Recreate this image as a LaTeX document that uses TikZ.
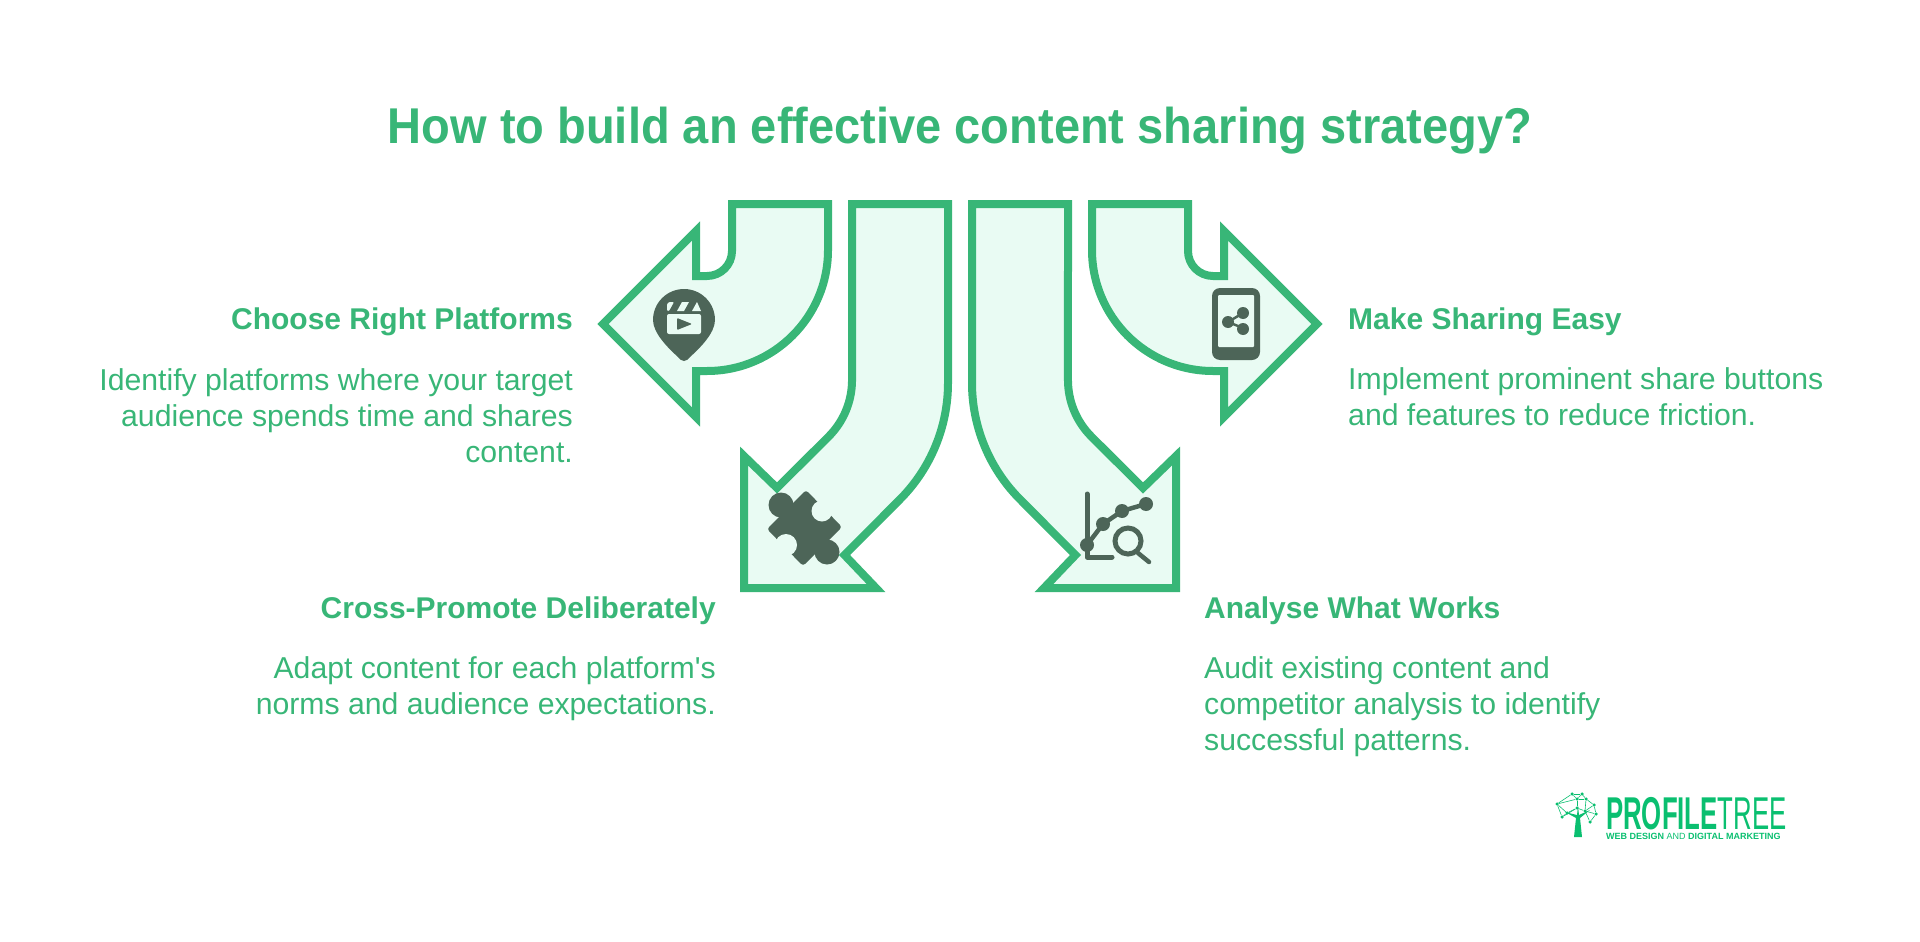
\documentclass[tikz,border=0pt]{standalone}
\usepackage{fontspec}
\setmainfont[Ligatures=TeXOff]{Liberation Sans}
\newfontfamily\titlefont[FakeStretch=0.935]{Liberation Sans}
\newfontfamily\logofont[FakeStretch=0.56]{Liberation Sans}
\definecolor{brandgreen}{HTML}{38B677}
\definecolor{arrowfill}{HTML}{E9FBF3}
\definecolor{icondark}{HTML}{4D6558}
\definecolor{logogreen}{HTML}{0ABF70}
\tikzset{
  bentarrow/.style={draw=brandgreen,fill=arrowfill,line width=8pt,line join=miter,miter limit=10},
  headtext/.style={text=brandgreen,font=\fontsize{30}{36}\selectfont\bfseries,inner sep=0pt},
  bodytext/.style={text=brandgreen,font=\fontsize{30.2}{36}\selectfont,inner sep=0pt},
  icondraw/.style={draw=icondark,line cap=round},
  iconfill/.style={fill=icondark},
  holefill/.style={fill=arrowfill},
  logonode/.style={fill=logogreen,circle,inner sep=0pt,minimum size=#1},
}
\begin{document}
\begin{tikzpicture}[x=1pt,y=-1pt]
  \useasboundingbox (0,0) rectangle (1920,942);
  \node (title) at (960,143) [anchor=base,text=brandgreen,font=\titlefont\fontsize{50.3}{55}\selectfont\bfseries,inner sep=0pt]{How to build an effective content sharing strategy?};

  % bent arrows, right side is the mirror of the left side
  \foreach \m/\o in {1/0,-1/1920} {
    \begin{scope}[shift={(\o,0)},xscale=\m]
      \path[bentarrow] (732,204) -- (828,204) -- (828,250) arc[start angle=0,end angle=90,radius=121] -- (696,371) -- (696,417) -- (603,324) -- (696,231) -- (696,276) -- (707,276) arc[start angle=90,end angle=0,radius=25] -- cycle;
      \path[bentarrow] (852,204) -- (948,204) -- (948,383) arc[start angle=0,end angle=45,radius=165] -- (844.5,555) -- (876,588) -- (744,588) -- (744,456) -- (777,488) -- (828.6,436.6) arc[start angle=45,end angle=0,radius=80] -- cycle;
    \end{scope}
  }

  % clapper in a pin
  \path[iconfill] (684,361) .. controls (681,361) and (680,359) .. (678,357) .. controls (668,348) and (653,333) .. (653,320) arc[start angle=180,end angle=360,radius=31] .. controls (715,333) and (700,348) .. (690,357) .. controls (688,359) and (687,361) .. (684,361) -- cycle;
  \path[holefill,rounded corners=2pt] (667,314) rectangle (701,334);
  \path[holefill,rounded corners=1pt] (667,311) -- (667,304) -- (669,302) -- (674,302) -- (669,311) -- cycle;
  \path[holefill] (677,311) -- (682,302) -- (689,302) -- (684,311) -- cycle;
  \path[holefill] (692,311) -- (697,302) -- (701,311) -- cycle;
  \path[iconfill,rounded corners=1pt] (677,318) -- (692,324) -- (677,330) -- cycle;

  % puzzle piece
  \path[iconfill,rounded corners=3pt] (806,490) -- (842,527) -- (803,566) -- (767,529) -- cycle;
  \path[iconfill] (781,505) circle[radius=12.5];
  \path[iconfill] (827,552) circle[radius=12.5];
  \path[holefill] (822,511) circle[radius=10.5];
  \path[holefill] (786,545) circle[radius=11];

  % chart with a magnifier
  \draw[icondraw,line width=5pt,line join=round] (1087,494) -- (1087,557) -- (1112,557);
  \draw[icondraw,line width=4.5pt] (1087,545) -- (1103,524) -- (1122,511) -- (1146,504);
  \foreach \x/\y in {1087/545,1103/524,1122/511,1146/504} {
    \path[iconfill] (\x,\y) circle[radius=7];
  }
  \draw[icondraw,line width=5pt] (1128,541) circle[radius=13];
  \draw[icondraw,line width=4.5pt] (1138,553) -- (1149,562);

  % phone with share sign
  \path[iconfill,rounded corners=8pt] (1212,288) rectangle (1260,360);
  \path[holefill,rounded corners=1pt] (1218,295) rectangle (1254,347);
  \draw[draw=icondark,line width=2.5pt] (1243,313) -- (1228,322) -- (1243,328);
  \foreach \x/\y in {1228/322,1243/313,1243/329} {
    \path[iconfill] (\x,\y) circle[radius=6];
  }

  % texts
  \node (platforms) at (573,329) [headtext,anchor=base east]{Choose Right Platforms};
  \node (platformstext) at (573,462) [bodytext,anchor=base east,align=right]{Identify platforms where your target\\audience spends time and shares\\content.};
  \node (promote) at (716,618) [headtext,anchor=base east]{Cross-Promote Deliberately};
  \node (promotetext) at (716,714) [bodytext,anchor=base east,align=right]{Adapt content for each platform's\\norms and audience expectations.};
  \node (sharing) at (1348,329) [headtext,anchor=base west]{Make Sharing Easy};
  \node (sharingtext) at (1348,425) [bodytext,anchor=base west,align=left]{Implement prominent share buttons\\and features to reduce friction.};
  \node (works) at (1204,618) [headtext,anchor=base west]{Analyse What Works};
  \node (workstext) at (1204,750) [bodytext,anchor=base west,align=left]{Audit existing content and\\competitor analysis to identify\\successful patterns.};

  % logo
  \path[fill=logogreen] (1574,837) -- (1576,818) -- (1565,812) -- (1577,815) -- (1578,806) -- (1579,815) -- (1590,810) -- (1580,818) -- (1582,837) -- cycle;
  \foreach \a/\x/\y in {a/1557/804,b/1572/794,c/1582/794,d/1586/799,e/1577/799,f/1594/805,g/1596/814,h/1590/822,i/1577/808,j/1585/811,k/1562/817,l/1567/813} {
    \node[logonode=3.5pt] (logo\a) at (\x,\y) {};
  }
  \foreach \p/\q in {a/b,b/c,c/d,d/f,f/g,g/h,a/k,k/l,l/i,i/e,e/b,e/c,e/d,i/j,j/f,j/g,j/h,a/e,a/l,k/i,d/j} {
    \draw[logogreen,line width=.6pt] (logo\p) -- (logo\q);
  }
  \node (logoname) at (1606,829) [anchor=base west,inner sep=0pt,text depth=0pt,text=logogreen,font=\logofont\fontsize{46}{46}\selectfont]{\textbf{PROFILE}TREE};
  \node (logosub) at (1606,839) [anchor=base west,inner sep=0pt,text=logogreen,font=\fontsize{9}{9}\selectfont]{\textbf{WEB DESIGN} AND \textbf{DIGITAL MARKETING}};
\end{tikzpicture}
\end{document}
